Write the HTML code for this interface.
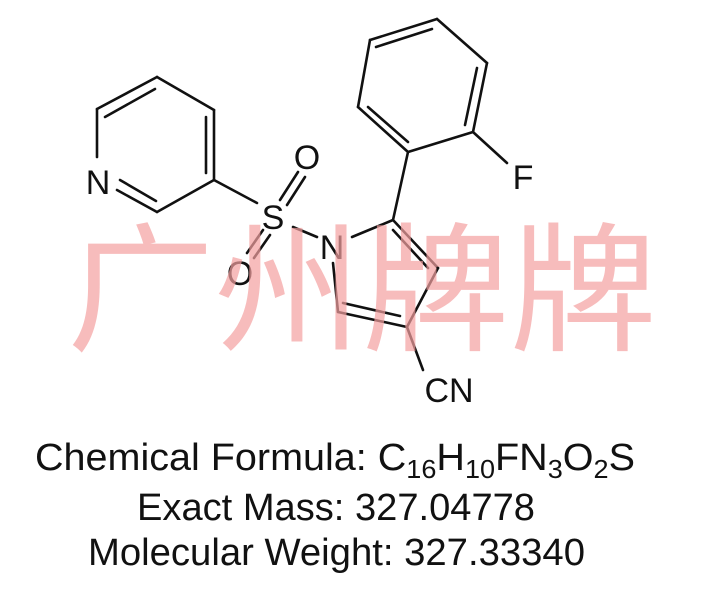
<!DOCTYPE html>
<html><head><style>html,body{margin:0;padding:0;background:#fff;width:727px;height:600px;overflow:hidden}</style></head>
<body>
<svg width="727" height="600" xmlns="http://www.w3.org/2000/svg">
<g stroke="#111" stroke-width="2.6" fill="none" stroke-linecap="round">
<!-- pyridine -->
<line x1="157" y1="77" x2="214" y2="110"/>
<line x1="214" y1="110" x2="214" y2="180"/>
<line x1="214" y1="180" x2="157" y2="212"/>
<line x1="157" y1="212" x2="117" y2="190"/>
<line x1="97" y1="157" x2="97" y2="109"/>
<line x1="97" y1="109" x2="157" y2="77"/>
<line x1="105" y1="117" x2="155" y2="89"/>
<line x1="206" y1="117" x2="206" y2="173"/>
<line x1="120" y1="180" x2="156" y2="201"/>
<!-- S bonds -->
<line x1="214" y1="180" x2="257" y2="203"/>
<line x1="280" y1="200" x2="298" y2="172"/>
<line x1="287" y1="205" x2="305" y2="177"/>
<line x1="263" y1="230" x2="247" y2="253"/>
<line x1="270" y1="235" x2="254" y2="258"/>
<line x1="293" y1="227" x2="317" y2="237"/>
<!-- pyrrole -->
<line x1="352" y1="237" x2="393" y2="220"/>
<line x1="393" y1="220" x2="438" y2="268"/>
<line x1="393" y1="230" x2="428" y2="268"/>
<line x1="438" y1="268" x2="407" y2="327"/>
<line x1="407" y1="327" x2="338" y2="312"/>
<line x1="343" y1="303" x2="400" y2="316"/>
<line x1="338" y1="312" x2="333" y2="263"/>
<line x1="407" y1="327" x2="423" y2="370"/>
<!-- phenyl -->
<line x1="393" y1="220" x2="408" y2="152"/>
<line x1="408" y1="152" x2="473" y2="132"/>
<line x1="473" y1="132" x2="487" y2="63"/>
<line x1="465" y1="125" x2="477" y2="68"/>
<line x1="487" y1="63" x2="437" y2="19"/>
<line x1="437" y1="19" x2="370" y2="40"/>
<line x1="432" y1="29" x2="376" y2="47"/>
<line x1="370" y1="40" x2="358" y2="107"/>
<line x1="358" y1="107" x2="408" y2="152"/>
<line x1="368" y1="107" x2="408" y2="142"/>
<line x1="473" y1="132" x2="507" y2="163"/>
</g>
<g font-family="Liberation Sans, sans-serif" font-size="34" fill="#111" text-anchor="middle">
<text x="98" y="194">N</text>
<text x="273" y="229">S</text>
<text x="307" y="169">O</text>
<text x="240" y="285">O</text>
<text x="332" y="259">N</text>
<text x="523" y="189">F</text>
<text x="449" y="402">CN</text>
</g>
<text x="362" y="340" font-family="Noto Sans CJK SC, sans-serif" font-size="140" fill="#f4a0a0" fill-opacity="0.7" text-anchor="middle" textLength="590" lengthAdjust="spacingAndGlyphs">广州牌牌</text>
<g font-family="Liberation Sans, sans-serif" font-size="38" fill="#111">
<text x="35" y="470" textLength="600" lengthAdjust="spacingAndGlyphs">Chemical Formula: C<tspan font-size="26" dy="8">16</tspan><tspan dy="-8">H</tspan><tspan font-size="26" dy="8">10</tspan><tspan dy="-8">FN</tspan><tspan font-size="26" dy="8">3</tspan><tspan dy="-8">O</tspan><tspan font-size="26" dy="8">2</tspan><tspan dy="-8">S</tspan></text>
<text x="137" y="520" textLength="398" lengthAdjust="spacingAndGlyphs">Exact Mass: 327.04778</text>
<text x="88" y="565" textLength="497" lengthAdjust="spacingAndGlyphs">Molecular Weight: 327.33340</text>
</g>
</svg>
</body></html>
